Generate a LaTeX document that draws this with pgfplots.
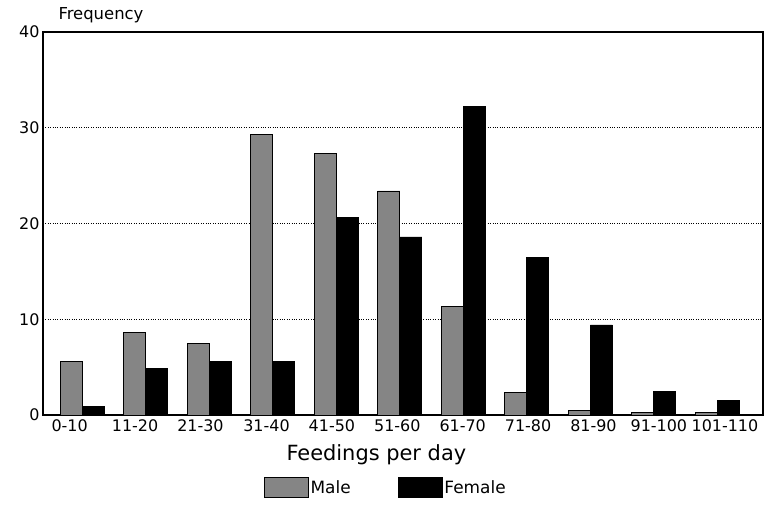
\documentclass[border=0pt]{standalone}
\usepackage{pgfplots}
\pgfplotsset{compat=1.18}
\usepackage{fontspec}
\setmainfont{DejaVu Sans}
\begin{document}
\begin{tikzpicture}
\path[use as bounding box] (0,0) rectangle (773bp,506bp);
\begin{axis}[
  at={(43bp,91bp)}, anchor=south west,
  scale only axis, width=720bp, height=383bp,
  xmin=-0.62, xmax=10.72, ymin=0, ymax=40,
  ybar, bar width=22bp,
  xtick={-0.2,0.83,1.86,2.9,3.93,4.96,5.99,7.02,8.05,9.08,10.12},
  xticklabels={0-10,11-20,21-30,31-40,41-50,51-60,61-70,71-80,81-90,91-100,101-110},
  ytick={0,10,20,30,40},
  ymajorgrids, major grid style={dotted, line width=0.9bp, black},
  major tick length=0pt,
  tick label style={font=\fontsize{16}{17}\selectfont},
  xticklabel style={yshift=-1bp},
  /pgf/number format/assume math mode=true,
  xlabel={Feedings per day},
  xlabel style={font=\fontsize{21}{22}\selectfont, at={(axis description cs:0.463,0)}, anchor=center, yshift=-40bp},
  axis line style={line width=1.2bp},
  legend columns=2,
  legend style={at={(axis description cs:0.476,-0.19)}, anchor=center, draw=none, fill=none,
    font=\fontsize{17}{18}\selectfont,
    /tikz/every even column/.append style={column sep=45bp}},
  legend image code/.code={\draw[#1] (0bp,-10bp) rectangle (44bp,10bp);},
]
\addplot[bar shift=-11bp, fill=black!48, draw=black, line width=0.8bp]
  coordinates {(0,5.6) (1,8.6) (2,7.5) (3,29.3) (4,27.3) (5,23.4) (6,11.3) (7,2.4) (8,0.5) (9,0.3) (10,0.3)};
\addplot[bar shift=11bp, fill=black, draw=black, line width=0.8bp]
  coordinates {(0,0.85) (1,4.9) (2,5.6) (3,5.6) (4,20.6) (5,18.6) (6,32.2) (7,16.5) (8,9.4) (9,2.5) (10,1.5)};
\legend{Male, Female}
\end{axis}
\node[anchor=base west, font=\fontsize{16.5}{17}\selectfont] at (55bp,486bp) {Frequency};
\end{tikzpicture}
\end{document}
